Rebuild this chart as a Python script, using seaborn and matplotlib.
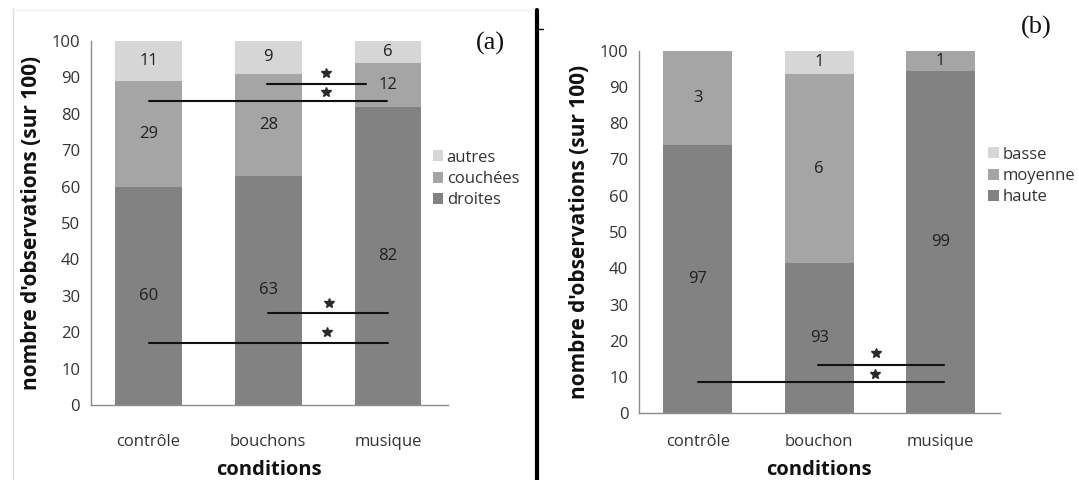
import numpy as np
import pandas as pd
import matplotlib
matplotlib.use("Agg")
import matplotlib.pyplot as plt
from matplotlib.patches import Patch
from matplotlib.lines import Line2D
import seaborn as sns

# panel (a): posture of the animals
cats_a = ["contrôle", "bouchons", "musique"]
droites = [60, 63, 82]
couchees = [29, 28, 12]
autres = [11, 9, 6]
lab_droites = ["60", "63", "82"]
lab_couchees = ["29", "28", "12"]
lab_autres = ["11", "9", "6"]

# panel (b): bar heights as drawn, labels as printed
cats_b = ["contrôle", "bouchon", "musique"]
haute = [74, 41.5, 94.5]
moyenne = [26, 52, 5.5]
basse = [0, 6.5, 0]
lab_haute = ["97", "93", "99"]
lab_moyenne = ["3", "6", "1"]
lab_basse = ["", "1", ""]

# significance bars: (x start, x end, y line, x star, y star)
sig_a = [(0.99, 1.82, 88.3, 1.48, 91.3),
         (0.0, 1.99, 83.6, 1.48, 86.1),
         (0.995, 2.0, 25.2, 1.51, 27.9),
         (0.0, 2.0, 17.1, 1.49, 20.0)]
sig_b = [(0.99, 2.03, 13.4, 1.47, 16.7),
         (0.0, 2.03, 8.5, 1.46, 10.8)]

c_light = "#d6d6d6"
c_mid = "#a5a5a5"
c_dark = "#828282"

sns.set_theme(style="white")
plt.rcParams["font.family"] = ["Open Sans", "DejaVu Sans"]

fig = plt.figure(figsize=(10.79, 4.8), dpi=100)
W, H = 1079, 480
ax1 = fig.add_axes([90.6 / W, 75 / H, 357.1 / W, 364 / H])
ax2 = fig.add_axes([638.7 / W, (H - 413.3) / H, 360.9 / W, 362.6 / H])


def draw_panel(ax, cats, layers, width, xlim, sigs, leg_xy, xpad, lpad):
    # layers bottom -> top: (name, values, labels, color)
    cum = np.zeros(len(cats))
    bottoms = []
    for name, vals, labs, col in layers:
        bottoms.append(cum.copy())
        cum = cum + np.array(vals, dtype=float)
    # draw cumulative totals from the top layer down
    tops = [b + np.array(v, dtype=float) for b, (_, v, _, _) in zip(bottoms, layers)]
    for (name, vals, labs, col), top in reversed(list(zip(layers, tops))):
        df = pd.DataFrame({"cond": cats, "val": top})
        sns.barplot(data=df, x="cond", y="val", color=col, width=width,
                    saturation=1, ax=ax, order=cats, edgecolor="none", linewidth=0)
    for (name, vals, labs, col), b in zip(layers, bottoms):
        for i, (v, t) in enumerate(zip(vals, labs)):
            if t:
                ax.text(i, b[i] + v / 2, t, ha="center", va="center",
                        fontsize=12, color="#1f1f1f")
    for x0, x1, y, xs, ys in sigs:
        ax.plot([x0, x1], [y, y], color="#111111", lw=1.5)
        ax.plot([xs], [ys], marker="*", ms=7, color="#2a2a2a")
    ax.set_xlim(*xlim)
    ax.set_ylim(0, 100)
    ax.set_yticks(range(0, 101, 10))
    ax.tick_params(axis="both", length=0, labelsize=12, labelcolor="#333333")
    ax.tick_params(axis="y", pad=7.5)
    ax.tick_params(axis="x", pad=xpad)
    for s in ["top", "right"]:
        ax.spines[s].set_visible(False)
    for s in ["left", "bottom"]:
        ax.spines[s].set_color("#8c8c8c")
        ax.spines[s].set_linewidth(1.0)
    ax.set_xlabel("conditions", fontsize=14.5, fontweight="bold", color="#111111", labelpad=lpad)
    ax.set_ylabel("nombre d'observations (sur 100)", fontsize=15, fontweight="bold",
                  color="#111111", labelpad=7)
    handles = [Patch(facecolor=col, edgecolor="none") for _, _, _, col in reversed(layers)]
    names = [n for n, _, _, _ in reversed(layers)]
    ax.legend(handles, names, loc="upper left", bbox_to_anchor=leg_xy,
              bbox_transform=fig.transFigure, frameon=False, fontsize=12,
              handlelength=0.64, handleheight=0.64, handletextpad=0.2,
              labelspacing=0.32, borderpad=0, borderaxespad=0,
              labelcolor="#333333")


draw_panel(ax1, cats_a,
           [("droites", droites, lab_droites, c_dark),
            ("couchées", couchees, lab_couchees, c_mid),
            ("autres", autres, lab_autres, c_light)],
           0.556, (-0.485, 2.50), sig_a, (432.7 / W, (H - 149.6) / H), 21, 7)

draw_panel(ax2, cats_b,
           [("haute", haute, lab_haute, c_dark),
            ("moyenne", moyenne, lab_moyenne, c_mid),
            ("basse", basse, lab_basse, c_light)],
           0.568, (-0.487, 2.486), sig_b, (988.3 / W, (H - 146.6) / H), 15, 7)

fig.text(490 / W, 1 - 43.5 / H, "(a)", ha="center", va="center",
         family="Liberation Serif", fontsize=19, color="#111111")
fig.text(1036 / W, 1 - 27.5 / H, "(b)", ha="center", va="center",
         family="Liberation Serif", fontsize=19, color="#111111")

# separator between the two panels and faint frame of the scan
fig.add_artist(Line2D([536.7 / W, 536.7 / W], [0, 1 - 10 / H], color="black", lw=3))
fig.add_artist(Line2D([536.7 / W, 543 / W], [1 - 29.3 / H, 1 - 29.3 / H], color="black", lw=1))
fig.add_artist(Line2D([13 / W, 13 / W], [0, 1 - 8 / H], color="#dddddd", lw=1))
fig.add_artist(Line2D([13 / W, 530 / W], [1 - 10 / H, 1 - 10 / H], color="#f0f0f0", lw=1))

fig.savefig("out.png", dpi=100)
